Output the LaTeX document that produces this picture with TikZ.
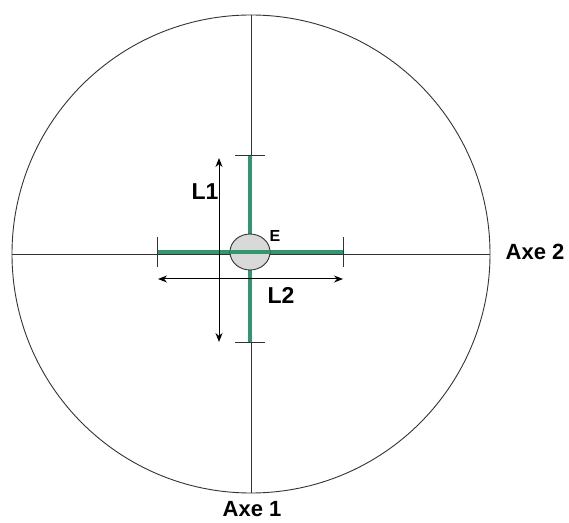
\documentclass[tikz,border=0pt]{standalone}
\usepackage{fontspec}
\setmainfont{Liberation Sans}
\usetikzlibrary{arrows.meta}
\definecolor{axegreen}{RGB}{52,150,110}
\tikzset{
	axe/.style={draw=black!80, line width=0.9pt},
	brin/.style={draw=axegreen, line width=3.2pt},
	tick/.style={draw=black!80, line width=0.9pt},
	cote/.style={draw=black, line width=1pt, {Stealth[length=9pt,width=7pt]}-{Stealth[length=9pt,width=7pt]}},
	lbl/.style={font=\bfseries\fontsize{22}{22}\selectfont, inner sep=0pt}
}
\begin{document}
\begin{tikzpicture}[x=1pt, y=1pt]
	\useasboundingbox (0,0) rectangle (569,522);
	\coordinate (O) at (251,268);
	\coordinate (N) at (251,507);  \coordinate (S) at (251,29);
	\coordinate (W) at (12,268);   \coordinate (Ea) at (490,268);
	\draw [axe] (O) circle (239);
	\draw [axe] (N)--(S) (W)--(Ea);
	% traits verts
	\coordinate (T) at (250,367);  \coordinate (B) at (250,180);
	\coordinate (G) at (157,270);  \coordinate (D) at (343,270);
	\draw [brin] (T)--(B) (G)--(D);
	\draw [tick] ([xshift=-15]T)--([xshift=15]T) ([xshift=-15]B)--([xshift=15]B);
	\draw [tick] ([yshift=-15]G)--([yshift=15]G) ([yshift=-15]D)--([yshift=15]D);
	\coordinate (C) at (250,270);
	\draw [draw=black!80, fill=black!15, line width=0.9pt] (C) ellipse (20 and 18);
	\draw [draw=axegreen, line width=3.2pt] ([xshift=-20]C)--([xshift=20]C);
	% cotes
	\coordinate (L1a) at (219,364); \coordinate (L1b) at (219,180);
	\coordinate (L2a) at (158,243); \coordinate (L2b) at (343,243);
	\draw [cote] (L1a)--(L1b);
	\draw [cote] (L2a)--(L2b);
	\node [lbl, font=\bfseries\fontsize{23}{23}\selectfont] (l1) at (205,330) {L1};
	\node [lbl, font=\bfseries\fontsize{23}{23}\selectfont] (l2) at (281,227) {L2};
	\node [lbl, font=\bfseries\fontsize{16}{16}\selectfont] (e) at (275,286) {E};
	\node [lbl] (axe2) at (535,270) {Axe 2};
	\node [lbl, anchor=base] (axe1) at (252,6) {Axe 1};
\end{tikzpicture}
\end{document}
